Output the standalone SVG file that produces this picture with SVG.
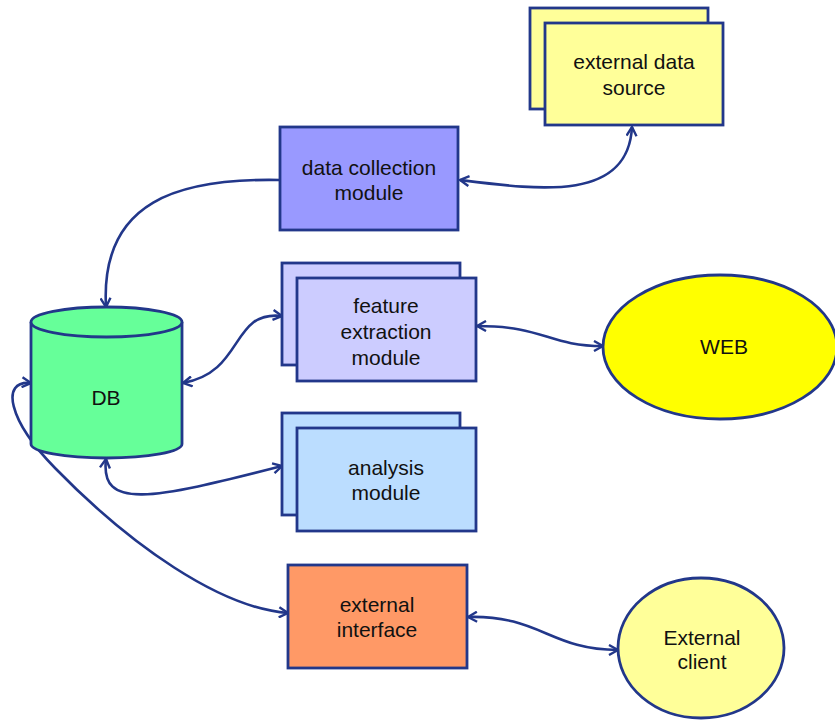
<svg xmlns="http://www.w3.org/2000/svg" width="835" height="720" viewBox="0 0 835 720">
<style>
.n{stroke:#22378a;stroke-width:2.8}
.t{font-family:"Liberation Sans",Arial,sans-serif;font-size:21px;fill:#111;text-anchor:middle}
.c{fill:none;stroke:#22378a;stroke-width:2.6}
</style>
<defs>
<marker id="a" viewBox="0 0 12 12" refX="11" refY="6" markerWidth="12" markerHeight="12" markerUnits="userSpaceOnUse" orient="auto-start-reverse">
<path d="M2,1 L11,6 L2,11" fill="none" stroke="#22378a" stroke-width="2.4"/>
</marker>
</defs>
<rect width="835" height="720" fill="#fff"/>
<g id="connectors">
<path class="c" d="M280,180 C180,178 100,200 106,307" marker-end="url(#a)"/>
<path class="c" d="M460,180 C540,190 628,202 632,127" marker-start="url(#a)" marker-end="url(#a)"/>
<path class="c" d="M183,383 C245,372 230,310 282,316" marker-start="url(#a)" marker-end="url(#a)"/>
<path class="c" d="M477,326 C545,326 548,346 603,346" marker-start="url(#a)" marker-end="url(#a)"/>
<path class="c" d="M106,459 C100,510 150,500 282,466" marker-start="url(#a)" marker-end="url(#a)"/>
<path class="c" d="M31,383 C0,380 8,420 55,468 C130,545 220,608 288,613" marker-start="url(#a)" marker-end="url(#a)"/>
<path class="c" d="M468,617 C540,615 550,650 618,650" marker-start="url(#a)" marker-end="url(#a)"/>
</g>
<g id="external-data-source">
<rect class="n" x="530" y="8" width="178" height="101" fill="#ffff99"/>
<rect class="n" x="545" y="23" width="178" height="102" fill="#ffff99"/>
<text class="t" x="634" y="69">external data</text>
<text class="t" x="634" y="95">source</text>
</g>
<g id="data-collection">
<rect class="n" x="280" y="127" width="178" height="103" fill="#9999ff"/>
<text class="t" x="369" y="175">data collection</text>
<text class="t" x="369" y="200">module</text>
</g>
<g id="feature-extraction">
<rect class="n" x="282" y="263" width="178" height="102" fill="#ccccff"/>
<rect class="n" x="297" y="278" width="179" height="103" fill="#ccccff"/>
<text class="t" x="386" y="313">feature</text>
<text class="t" x="386" y="339">extraction</text>
<text class="t" x="386" y="365">module</text>
</g>
<g id="db">
<path class="n" d="M31,322 L31,444 A75.5,14 0 0 0 182,444 L182,322" fill="#66ff99"/>
<ellipse class="n" cx="106.5" cy="322" rx="75.5" ry="15" fill="#66ff99"/>
<text class="t" x="106" y="405">DB</text>
</g>
<g id="analysis">
<rect class="n" x="282" y="413" width="178" height="102" fill="#bbddff"/>
<rect class="n" x="297" y="428" width="179" height="103" fill="#bbddff"/>
<text class="t" x="386" y="475">analysis</text>
<text class="t" x="386" y="500">module</text>
</g>
<g id="external-interface">
<rect class="n" x="288" y="565" width="179" height="103" fill="#ff9966"/>
<text class="t" x="377" y="612">external</text>
<text class="t" x="377" y="637">interface</text>
</g>
<g id="web">
<ellipse class="n" cx="720" cy="347" rx="117" ry="72" fill="#ffff00"/>
<text class="t" x="724" y="354">WEB</text>
</g>
<g id="external-client">
<ellipse class="n" cx="701" cy="648" rx="83" ry="70" fill="#ffff99"/>
<text class="t" x="702" y="645">External</text>
<text class="t" x="702" y="669">client</text>
</g>
</svg>
